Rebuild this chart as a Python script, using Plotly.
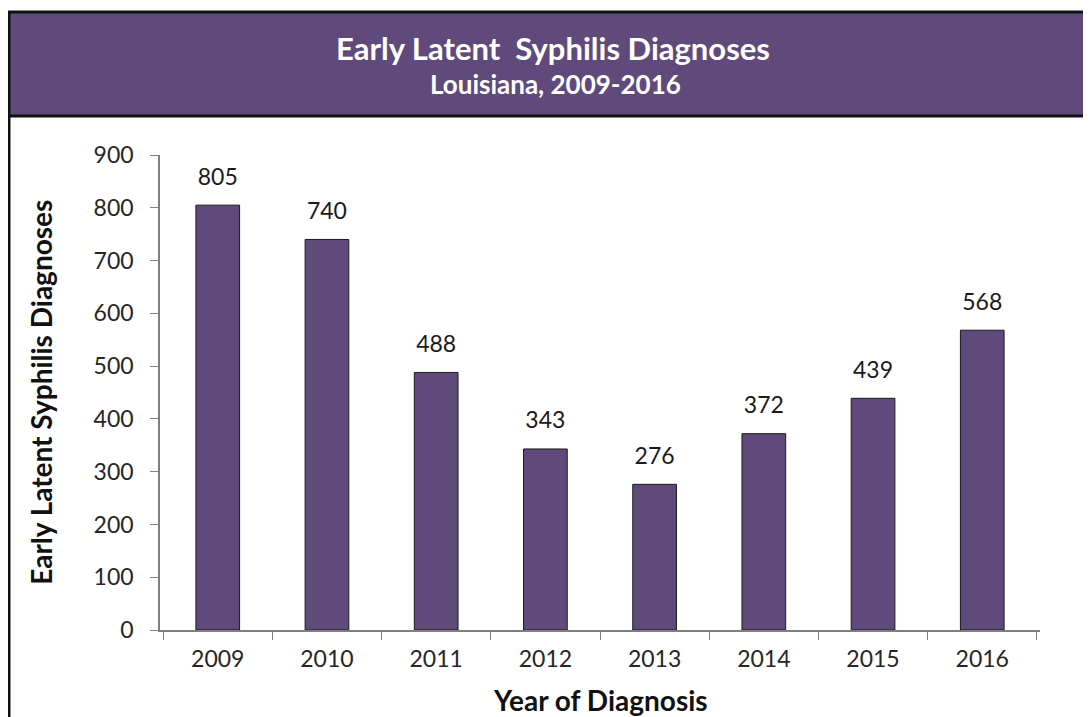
import plotly.graph_objects as go

years = ["2009", "2010", "2011", "2012", "2013", "2014", "2015", "2016"]
diagnoses = [805, 740, 488, 343, 276, 372, 439, 568]

purple = "#604A7B"
font = "Lato, 'Open Sans', sans-serif"

fig = go.Figure()
fig.add_trace(go.Bar(
    x=years,
    y=diagnoses,
    width=0.4,
    marker=dict(color=purple, line=dict(color="#1a1a1a", width=1)),
    hoverinfo="x+y",
))

# value labels above the bars (invisible markers push text up)
fig.add_trace(go.Scatter(
    x=years,
    y=diagnoses,
    mode="markers+text",
    marker=dict(size=22, opacity=0),
    text=[str(v) for v in diagnoses],
    textposition="top center",
    textfont=dict(size=23, color="#1a1a1a", family=font),
    cliponaxis=False,
    hoverinfo="skip",
))

# header band and frame (paper coords relative to the plot area)
fig.add_shape(type="rect", xref="paper", yref="paper",
              x0=-0.1716, x1=1.2, y0=1.082, y1=1.301,
              fillcolor=purple, line=dict(color="#111", width=3), layer="below")
fig.add_shape(type="line", xref="paper", yref="paper",
              x0=-0.1716, x1=-0.1716, y0=1.082, y1=-0.3,
              line=dict(color="#111", width=3))

fig.add_annotation(text="<b>Early Latent  Syphilis Diagnoses</b>", xref="paper", yref="paper",
                   x=0.4466, y=1.225, xanchor="center", yanchor="middle", showarrow=False,
                   font=dict(size=31, color="white", family=font))
fig.add_annotation(text="<b>Louisiana, 2009-2016</b>", xref="paper", yref="paper",
                   x=0.449, y=1.149, xanchor="center", yanchor="middle", showarrow=False,
                   font=dict(size=26, color="white", family=font))

# axis titles
fig.add_annotation(text="<b>Early Latent Syphilis Diagnoses</b>", xref="paper", yref="paper",
                   x=-0.136, y=0.5, xanchor="center", yanchor="middle", textangle=-90,
                   showarrow=False, font=dict(size=28, color="#111", family=font))
fig.add_annotation(text="<b>Year of Diagnosis</b>", xref="paper", yref="paper",
                   x=0.5, y=-0.148, xanchor="center", yanchor="middle",
                   showarrow=False, font=dict(size=28, color="#111", family=font))

fig.update_layout(
    width=1083, height=709,
    margin=dict(l=152, r=51, t=147, b=87),
    paper_bgcolor="white", plot_bgcolor="white",
    showlegend=False,
    font=dict(family=font, color="#262626"),
    xaxis=dict(
        type="category",
        showline=True, linecolor="#7f7f7f", linewidth=1.5,
        ticks="outside", ticklen=8, tickcolor="#7f7f7f", tickson="boundaries",
        tickfont=dict(size=23, color="#262626"), ticklabelstandoff=8,
        tickangle=0, showgrid=False,
    ),
    yaxis=dict(
        range=[0, 900], dtick=100,
        showline=True, linecolor="#7f7f7f", linewidth=1.5,
        ticks="outside", ticklen=8, tickcolor="#7f7f7f",
        tickfont=dict(size=23, color="#262626"), ticklabelstandoff=12,
        showgrid=False, zeroline=False,
    ),
)

fig.write_html("out.html")
